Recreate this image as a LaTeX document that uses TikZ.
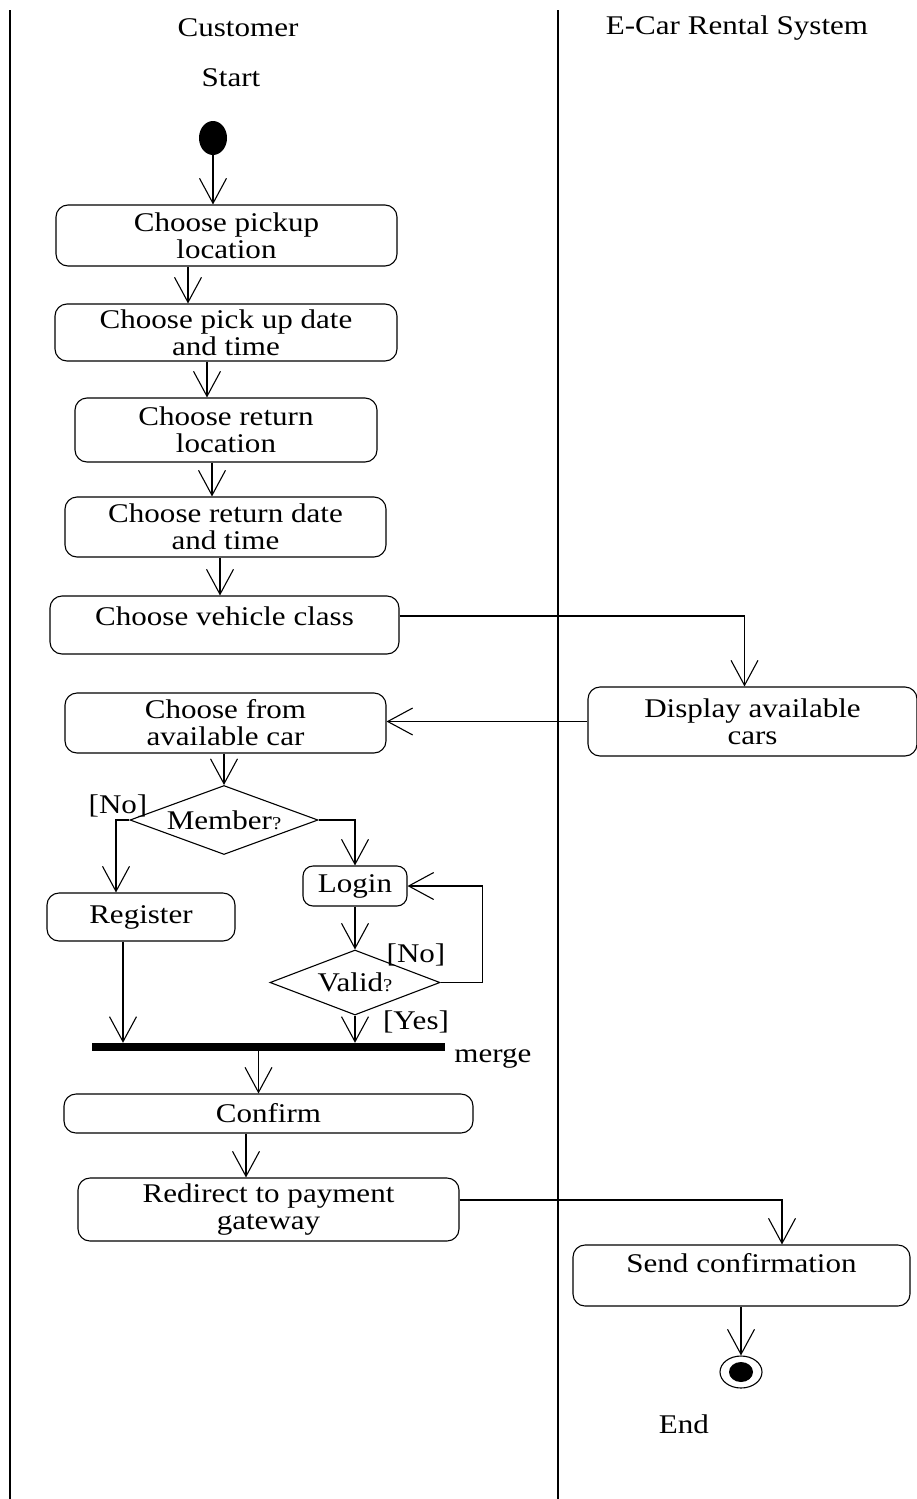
\documentclass[tikz,border=0pt]{standalone}
\usepackage{fontspec}
\setmainfont{Liberation Serif}[FakeStretch=1.15]
\usepackage{tikz}
\usetikzlibrary{shapes.geometric}
\usetikzlibrary{arrows.meta}

\tikzset{
  txt/.style={inner sep=0pt, font=\fontsize{27}{27}\selectfont},
  activity/.style={txt, draw, line width=1.1pt, rounded corners=12pt, align=center},
  decision/.style={txt, draw, diamond, line width=1.1pt},
  flow/.style={line width=1.1pt, -{Straight Barb[length=25pt,width=27pt]}}
}

\begin{document}
\begin{tikzpicture}[x=1pt,y=-1pt]
        \useasboundingbox (0,0) rectangle (917,1499);
        % swimlanes
        \draw[line width=1.2pt] (10,10) -- (10,1499);
        \draw[line width=1.2pt] (558,10) -- (558,1499);
        \node[txt] (cust) at (238,28) {Customer};
        \node[txt] (sys) at (737,28) {E-Car Rental System};

        % customer lane
        \node[txt] (startlbl) at (231,78) {Start};
        \node[ellipse, fill=black, minimum width=28, minimum height=34, inner sep=0pt] (start) at (213,138) {};
        \node[activity, minimum width=341, minimum height=61] (pick) at (226.5,235.5) {Choose pickup\\location};
        \node[activity, minimum width=342, minimum height=57] (pickdate) at (226,332.5) {Choose pick up date\\and time};
        \node[activity, minimum width=302, minimum height=64] (ret) at (226,430) {Choose return\\location};
        \node[activity, minimum width=321, minimum height=60] (retdate) at (225.5,527) {Choose return date\\and time};
        \node[activity, minimum width=349, text height=29, text depth=29] (class) at (224.5,625) {Choose vehicle class};
        \node[activity, minimum width=321, minimum height=60] (avail) at (225.5,723) {Choose from\\available car};
        \node[decision, aspect=2.7, minimum width=188, minimum height=69] (member) at (224,820) {Member{\fontsize{18}{18}\selectfont ?}};
        \node[txt] (memno) at (118,806) {[No]};
        \node[activity, minimum width=188, minimum height=48] (reg) at (141,917) {Register};
        \node[activity, minimum width=104, minimum height=40, rounded corners=10pt] (login) at (355,886) {Login};
        \node[decision, aspect=2.6, minimum width=170, minimum height=65] (valid) at (355,982.5) {Valid{\fontsize{18}{18}\selectfont ?}};
        \node[txt] (validno) at (416,955) {[No]};
        \node[txt] (validyes) at (416,1022) {[Yes]};
        \node[fill=black, minimum width=353, minimum height=8, inner sep=0pt] (merge) at (268.5,1047) {};
        \node[txt] (mergelbl) at (493,1058) {merge};
        \node[activity, minimum width=409, minimum height=39] (confirm) at (268.5,1113.5) {Confirm};
        \node[activity, minimum width=381, minimum height=63] (pay) at (268.5,1209.5) {Redirect to payment\\gateway};

        % system lane
        \node[activity, minimum width=329, minimum height=69] (disp) at (752.5,721.5) {Display available\\cars};
        \node[activity, minimum width=337, text height=27, text depth=34] (send) at (741.5,1275.5) {Send confirmation};
        \node[ellipse, draw, line width=1.1pt, minimum width=42, minimum height=32, inner sep=0pt] (fin) at (741,1372) {};
        \node[ellipse, fill=black, minimum width=24, minimum height=20, inner sep=0pt] (fininner) at (fin) {};
        \node[txt] (endlbl) at (684,1424) {End};

        % flows
        \draw[flow] (start.south) -- (start.south |- pick.north);
        \draw[flow] ([xshift=-38.5]pick.south) -- ([xshift=-38.5]pick.south |- pickdate.north);
        \draw[flow] ([xshift=-19]pickdate.south) -- ([xshift=-19]pickdate.south |- ret.north);
        \draw[flow] ([xshift=-14]ret.south) -- ([xshift=-14]ret.south |- retdate.north);
        \draw[flow] ([xshift=-5.5]retdate.south) -- ([xshift=-5.5]retdate.south |- class.north);
        \draw[flow] ([yshift=9]class.east) -| ([xshift=-8]disp.north);
        \draw[flow] (disp.west) -- (disp.west -| avail.east);
        \draw[flow] (member.north |- avail.south) -- (member.north);
        \draw[flow] (member.west) -| ([xshift=-25]reg.north);
        \draw[flow] (member.east) -| (login.north);
        \draw[flow] (login.south) -- (valid.north);
        \draw[flow] (valid.east) -- ++(42,0) |- (login.east);
        \draw[flow] (valid.south) -- (valid.south |- merge.north);
        \draw[flow] ([xshift=-18]reg.south) -- ([xshift=-18]reg.south |- merge.north);
        \draw[flow] ([xshift=-10]merge.south) -- ([xshift=-10]merge.south |- confirm.north);
        \draw[flow] ([xshift=-22.5]confirm.south) -- ([xshift=-22.5]confirm.south |- pay.north);
        \draw[flow] ([yshift=9.5]pay.east) -| ([xshift=40.5]send.north);
        \draw[flow] (fin.north |- send.south) -- (fin.north);
\end{tikzpicture}
\end{document}
